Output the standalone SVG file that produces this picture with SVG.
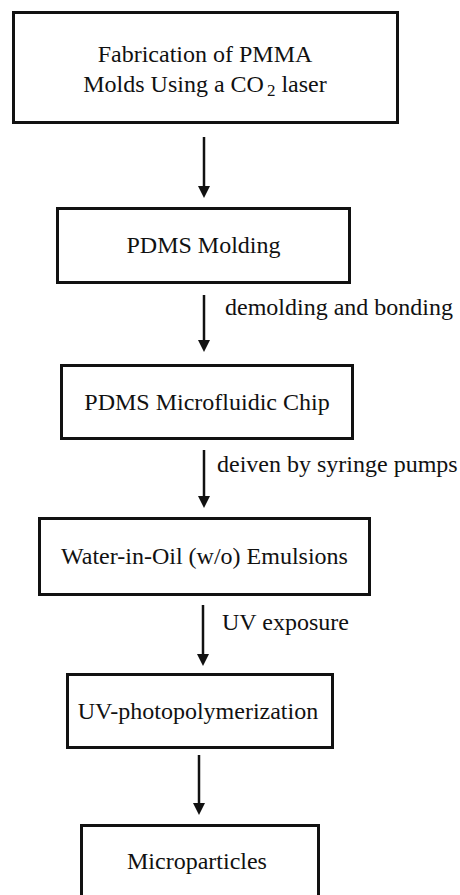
<svg xmlns="http://www.w3.org/2000/svg" width="460" height="895" viewBox="0 0 460 895">
<style>
.box{fill:#fff;stroke:#111;stroke-width:3}
text{font-family:'Liberation Serif','Times New Roman',Times,serif;font-size:24px;fill:#111}
.t{text-anchor:middle}
.c{stroke:#111;stroke-width:2.5;fill:none;marker-end:url(#ah)}
</style>
<defs>
<marker id="ah" viewBox="0 0 12 12" refX="6" refY="6" markerWidth="12" markerHeight="12" markerUnits="userSpaceOnUse" orient="auto">
<path d="M0,0 L12,6 L0,12 z" fill="#111"/>
</marker>
</defs>
<rect width="460" height="895" fill="#fff"/>
<g id="n1"><rect class="box" x="13.5" y="12.5" width="384" height="110"/>
<text class="t" x="205" y="62">Fabrication of PMMA</text>
<text class="t" x="205" y="92">Molds Using a CO<tspan dx="3" font-size="17" dy="4">2</tspan><tspan dy="-4"> laser</tspan></text></g>
<g id="n2"><rect class="box" x="57.5" y="208.5" width="292" height="74"/>
<text class="t" x="203.5" y="253">PDMS Molding</text></g>
<g id="n3"><rect class="box" x="61.5" y="365.5" width="291" height="73"/>
<text class="t" x="207" y="410">PDMS Microfluidic Chip</text></g>
<g id="n4"><rect class="box" x="39.5" y="518.5" width="330" height="76"/>
<text class="t" x="204.5" y="564">Water-in-Oil (w/o) Emulsions</text></g>
<g id="n5"><rect class="box" x="67.5" y="674.5" width="265" height="73"/>
<text class="t" x="198" y="719">UV-photopolymerization</text></g>
<g id="n6"><rect class="box" x="81.5" y="825.5" width="237" height="90"/>
<text class="t" x="197" y="869">Microparticles</text></g>
<g id="connectors">
<line class="c" x1="204" y1="137" x2="204" y2="192"/>
<line class="c" x1="204" y1="295" x2="204" y2="346"/>
<line class="c" x1="204" y1="450" x2="204" y2="502"/>
<line class="c" x1="203" y1="605" x2="203" y2="660"/>
<line class="c" x1="199" y1="755" x2="199" y2="809"/>
<text x="225" y="315">demolding and bonding</text>
<text x="217" y="472">deiven by syringe pumps</text>
<text x="222" y="630">UV exposure</text>
</g>
</svg>
